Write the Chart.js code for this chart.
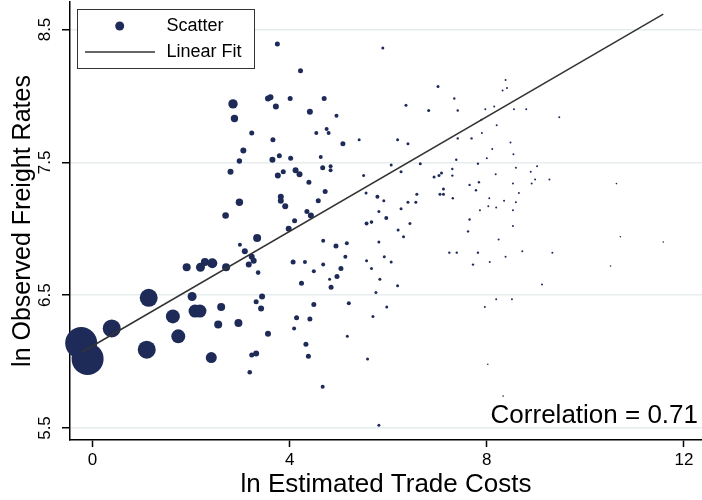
<!DOCTYPE html>
<html>
<head>
<meta charset="utf-8">
<script src="https://cdn.jsdelivr.net/npm/chart.js@4.4.1/dist/chart.umd.min.js"></script>
<style>
  body { margin: 0; background: #fff; }
  #wrap { width: 702px; height: 500px; position: relative; }
</style>
</head>
<body>
<div id="wrap"><canvas id="chart"></canvas></div>
<script>
// 数据
const xTicks = [0, 4, 8, 12];
const yTicks = [5.5, 6.5, 7.5, 8.5];

// ln estimated trade costs
const tradeCost = [
  -0.23, -0.10, 0.39, 1.10, 1.14, 1.63, 1.74, 2.08, 2.18, 2.02,
  2.61, 2.41, 2.55, 2.96, 1.91, 2.19, 2.28, 2.43, 2.71, 2.85,
  2.88, 2.70, 2.98, 2.80, 2.98, 3.06, 3.23, 3.34, 2.99, 3.09,
  3.23, 3.27, 3.17, 3.36, 3.32, 3.44, 3.42, 3.56, 3.32, 3.23,
  3.19, 3.56, 3.61, 3.72, 3.75, 4.22, 4.01, 4.70, 4.41, 4.95,
  5.89, 7.01, 7.34, 6.36, 6.82, 7.41, 3.66, 4.54, 4.75, 4.79,
  5.08, 5.41, 6.19, 6.40, 7.41, 7.69, 3.65, 3.79, 4.02, 4.63,
  4.67, 4.83, 4.83, 3.76, 3.87, 4.12, 4.20, 4.39, 5.50, 6.06,
  6.26, 6.65, 7.38, 7.30, 6.93, 7.03, 7.08, 7.30, 7.12, 7.65,
  7.82, 7.84, 3.82, 3.82, 3.91, 4.72, 4.58, 4.35, 4.43, 4.10,
  3.98, 5.55, 5.78, 5.91, 5.81, 5.96, 5.56, 5.66, 6.26, 6.40,
  6.56, 6.58, 6.44, 6.20, 6.31, 7.05, 7.12, 7.31, 7.78, 7.65,
  7.62, 4.68, 4.94, 5.16, 5.81, 5.13, 4.07, 4.31, 4.68, 5.04,
  4.49, 4.96, 4.81, 4.24, 4.84, 5.56, 5.92, 6.06, 5.66, 5.83,
  5.75, 6.19, 7.24, 7.39, 7.82, 7.72, 4.49, 5.20, 4.14, 4.41,
  4.09, 5.69, 5.97, 5.17, 4.33, 4.38, 5.58, 4.67, 5.81,
  8.38, 8.41, 8.32, 7.97, 8.15, 8.55, 8.80, 9.47, 7.89, 8.20,
  7.90, 8.48, 8.11, 8.54, 8.00, 8.59, 9.02, 8.89, 8.18, 8.98,
  9.27, 8.91, 8.53, 10.63, 8.65, 8.05, 8.35, 8.59, 8.03, 8.19,
  8.53, 7.86, 8.53, 8.24, 8.72, 9.33, 8.38, 8.06, 9.12, 10.71,
  11.58, 10.51, 8.19, 8.51, 7.96, 8.02, 8.33
];

// ln observed freight rates
const freightRate = [
  6.14, 6.02, 6.25, 6.09, 6.48, 6.34, 6.19, 6.38, 6.38, 6.49,
  6.41, 6.03, 6.28, 6.29, 6.71, 6.71, 6.75, 6.74, 6.71, 7.94,
  7.83, 7.10, 7.20, 7.43, 7.51, 7.59, 7.72, 6.93, 6.88, 6.83,
  6.79, 6.76, 6.73, 6.67, 6.45, 6.49, 6.40, 6.21, 6.06, 6.05,
  5.92, 7.98, 7.99, 7.92, 8.39, 8.19, 7.98, 7.98, 7.88, 7.85,
  8.36, 8.07, 7.98, 7.93, 7.89, 7.89, 7.67, 7.72, 7.75, 7.72,
  7.64, 7.67, 7.67, 7.64, 7.68, 7.68, 7.52, 7.55, 7.53, 7.54,
  7.46, 7.47, 7.44, 7.40, 7.43, 7.44, 7.41, 7.35, 7.40, 7.48,
  7.43, 7.49, 7.52, 7.45, 7.39, 7.40, 7.42, 7.40, 7.30, 7.33,
  7.49, 7.35, 7.24, 7.21, 7.17, 7.28, 7.21, 7.13, 7.10, 7.06,
  7.00, 7.27, 7.24, 7.21, 7.13, 7.08, 7.04, 7.05, 7.15, 7.20,
  7.20, 7.26, 7.04, 6.99, 6.94, 7.26, 7.26, 7.23, 7.29, 7.07,
  6.98, 6.91, 6.87, 6.89, 6.90, 6.79, 6.75, 6.75, 6.73, 6.70,
  6.68, 6.64, 6.62, 6.59, 6.56, 6.76, 6.79, 6.75, 6.70, 6.62,
  6.52, 6.57, 6.82, 6.82, 6.82, 6.73, 6.43, 6.44, 6.33, 6.32,
  6.25, 6.34, 6.41, 6.19, 6.13, 6.04, 6.02, 5.81, 5.52,
  8.12, 8.06, 8.04, 7.90, 7.92, 7.90, 7.90, 7.84, 7.82, 7.78,
  7.72, 7.65, 7.60, 7.56, 7.53, 7.46, 7.47, 7.43, 7.41, 7.37,
  7.37, 7.34, 7.34, 7.34, 7.27, 7.23, 7.21, 7.20, 7.17, 7.16,
  7.14, 7.14, 7.02, 6.92, 6.83, 6.82, 6.79, 6.75, 6.58, 6.94,
  6.90, 6.72, 6.47, 6.47, 6.41, 5.98, 5.74
];

// 权重 (marker size)
const weights = [
  16, 16, 9, 9, 9, 7, 7, 6.5, 6.5, 4.5,
  4, 5.5, 4, 4, 4, 4.5, 4, 5, 4, 4.7,
  3.7, 3.3, 3.7, 3, 2.7, 3, 2.5, 4, 2, 3,
  3, 3, 3, 2.3, 2.5, 3, 3, 3, 3, 2.5,
  2.3, 3, 3, 3, 2.5, 2.5, 2.5, 2.5, 3, 2,
  1.5, 1.5, 1.2, 1.5, 1.5, 1.2, 2.5, 2, 2, 2,
  2.5, 1.5, 1.5, 1.5, 1.2, 1.2, 3, 2.5, 2.5, 2,
  2.5, 2, 2, 3, 2.5, 3, 3, 2.5, 1.5, 1.5,
  1.5, 1.5, 1.2, 1.2, 1.5, 1.5, 1.5, 1.2, 1.5, 1.2,
  1.2, 1.2, 3, 3, 3, 2.5, 2.5, 2.5, 3, 2.5,
  3, 1.5, 2, 1.5, 1.5, 2, 2, 1.8, 1.5, 1.5,
  1.5, 1.5, 1.5, 1.5, 1.5, 1.5, 1.5, 1.2, 1.2, 1.2,
  1.2, 2, 2.5, 2, 1.5, 2, 2.5, 2, 2, 2.5,
  2, 2.5, 1.5, 2.5, 2.5, 1.5, 1.5, 1.5, 1.5, 1.5,
  1.5, 1.5, 1.2, 1.2, 1.2, 1.2, 2.5, 2, 2.5, 2.5,
  2, 1.5, 1.5, 1.5, 2.5, 2.5, 1.5, 2, 1.5,
  1, 1, 1, 1, 1, 1, 1, 1, 1, 1,
  1, 1, 1, 1, 1, 1, 1, 1, 1, 1,
  1, 1, 1, 0.8, 1, 1, 1, 1, 1, 1,
  1, 1, 1, 1, 1, 1, 1, 1, 1, 0.8,
  0.8, 0.8, 1, 1, 1, 0.8, 0.8
];

// 线性拟合两端
const fitX = [-0.21, 11.58];
const fitY = [6.072, 8.615];

const navy = '#1e2b58';
const fontFamily = '"Liberation Sans", Arial, Helvetica, sans-serif';

const scatterData = tradeCost.map((x, i) => ({ x: x, y: freightRate[i], r: weights[i] }));
const fitData = fitX.map((x, i) => ({ x: x, y: fitY[i] }));

// 图例和相关系数
const extrasPlugin = {
  id: 'extras',
  afterDraw(chart) {
    const ctx = chart.ctx;
    ctx.save();
    // 图例框
    ctx.fillStyle = '#fff';
    ctx.fillRect(77.5, 9.5, 177, 59);
    ctx.strokeStyle = '#333';
    ctx.lineWidth = 1;
    ctx.strokeRect(77.5, 9.5, 177, 59);
    ctx.fillStyle = navy;
    ctx.beginPath();
    ctx.arc(119.7, 26, 4.5, 0, Math.PI * 2);
    ctx.fill();
    ctx.strokeStyle = '#333';
    ctx.lineWidth = 1.5;
    ctx.beginPath();
    ctx.moveTo(85, 52);
    ctx.lineTo(155, 52);
    ctx.stroke();
    ctx.fillStyle = '#000';
    ctx.font = '18px ' + fontFamily;
    ctx.textBaseline = 'middle';
    ctx.textAlign = 'left';
    ctx.fillText(chart.data.datasets[1].label, 166.5, 26);
    ctx.fillText(chart.data.datasets[0].label, 166.5, 52);
    // 相关系数
    ctx.font = '26px ' + fontFamily;
    ctx.textAlign = 'right';
    ctx.fillText('Correlation = 0.71', 698, 416);
    ctx.restore();
  }
};

new Chart(document.getElementById('chart'), {
  type: 'bubble',
  data: {
    datasets: [{
      type: 'line',
      label: 'Linear Fit',
      data: fitData,
      borderColor: '#333',
      borderWidth: 1.5,
      pointRadius: 0,
      fill: false,
      order: 0
    }, {
      label: 'Scatter',
      data: scatterData,
      backgroundColor: navy,
      borderWidth: 0,
      clip: false,
      order: 1
    }]
  },
  options: {
    responsive: true,
    maintainAspectRatio: false,
    animation: false,
    events: [],
    layout: { autoPadding: false, padding: { top: 2, right: 0, left: 0, bottom: 0 } },
    plugins: {
      legend: { display: false },
      tooltip: { enabled: false }
    },
    scales: {
      x: {
        type: 'linear',
        min: -0.457,
        max: 12.366,
        afterBuildTicks: s => { s.ticks = xTicks.map(v => ({ value: v })); },
        afterFit: s => {
          s.height = 60;
          s.paddingLeft = 0;
          s.paddingRight = 0;
        },
        grid: { drawOnChartArea: false, tickLength: 7, tickColor: '#000', tickWidth: 1.5 },
        border: { color: '#000', width: 1.5 },
        ticks: { color: '#000', font: { family: fontFamily, size: 17 }, padding: 3, maxRotation: 0 },
        title: {
          display: true,
          text: 'ln Estimated Trade Costs',
          color: '#000',
          font: { family: fontFamily, size: 26 },
          padding: { top: 0, bottom: 0 }
        }
      },
      y: {
        type: 'linear',
        min: 5.4097,
        max: 8.707,
        afterBuildTicks: s => { s.ticks = yTicks.map(v => ({ value: v })); },
        afterFit: s => {
          s.width = 70;
          s.paddingTop = 0;
          s.paddingBottom = 0;
        },
        grid: { color: '#e6eded', lineWidth: 1.5, tickLength: 8, tickColor: '#000', tickWidth: 1.5 },
        border: { color: '#000', width: 1.5 },
        ticks: {
          color: '#000',
          font: { family: fontFamily, size: 17 },
          minRotation: 90,
          maxRotation: 90,
          crossAlign: 'center',
          padding: 5,
          callback: v => v.toFixed(1)
        },
        title: {
          display: true,
          text: 'ln Observed Freight Rates',
          color: '#000',
          font: { family: fontFamily, size: 25 },
          padding: { top: 8, bottom: 0 }
        }
      }
    }
  },
  plugins: [extrasPlugin]
});
</script>
</body>
</html>
